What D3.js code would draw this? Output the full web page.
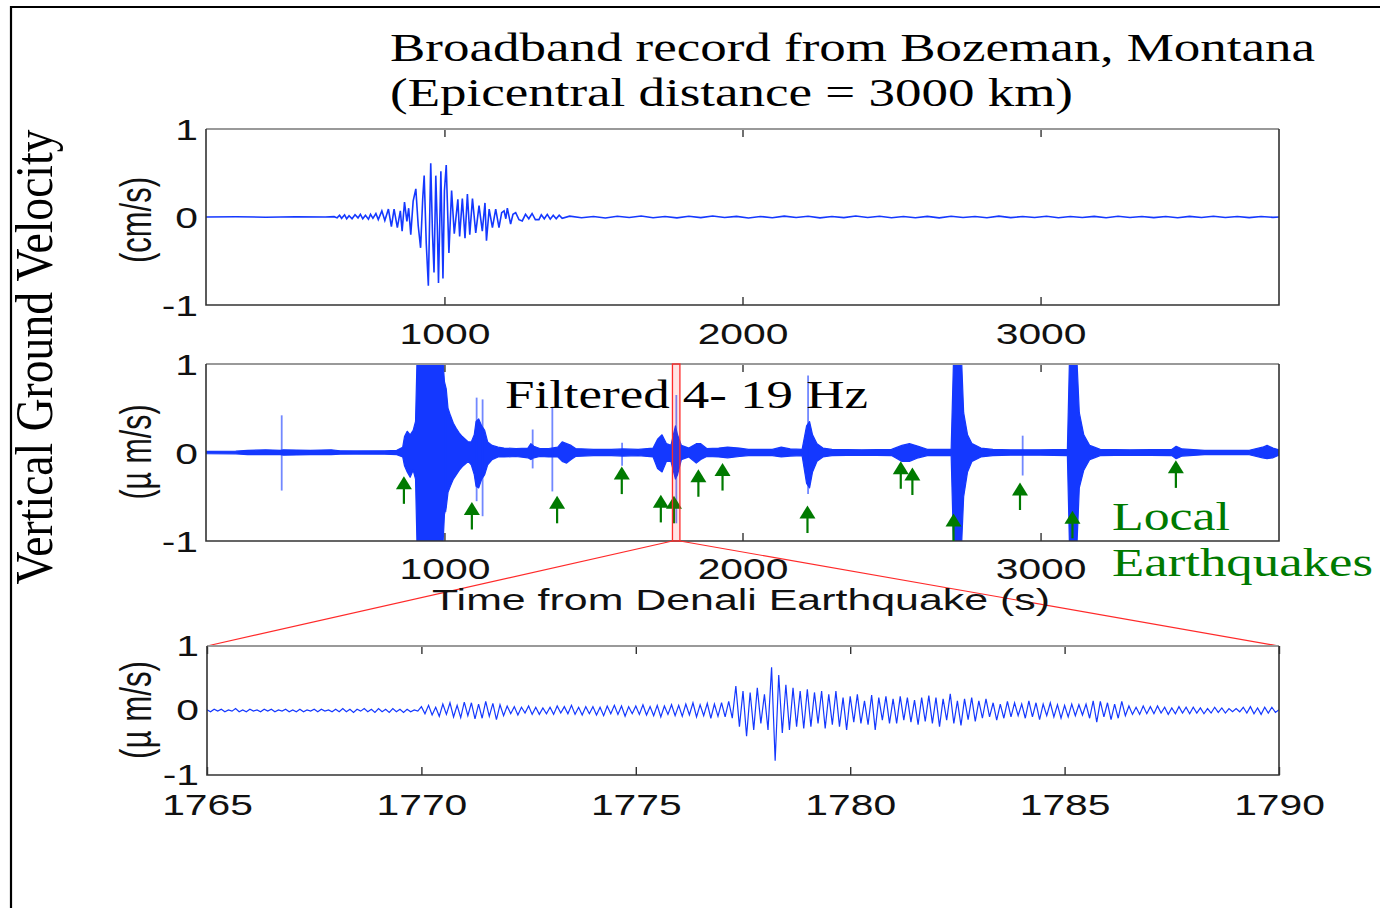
<!DOCTYPE html>
<html>
<head>
<meta charset="utf-8">
<script src="https://cdn.jsdelivr.net/npm/d3@7"></script>
<style>
  body { margin: 0; background: #fff; }
  svg { display: block; }
</style>
</head>
<body>
<div id="chart"></div>
<script>
// ---- values ----
var longTicks = [1000, 2000, 3000];
var zoomTicks = [1765, 1770, 1775, 1780, 1785, 1790];
var ampTicks = [-1, 0, 1];

// broadband record (cm/s)
var bbTime = [200, 300, 400, 500, 600, 630, 640, 648, 655, 665,
  672, 680, 690, 700, 710, 718, 726, 735, 745, 752,
  760, 770, 778, 790, 800, 812, 822, 831, 842, 852,
  858, 866, 874, 880, 887, 895, 904, 912, 920, 927,
  932, 939, 946, 954, 960, 965, 971, 976, 980, 988,
  995, 1000, 1006, 1015, 1024, 1033, 1045, 1051, 1060, 1069,
  1077, 1085, 1094, 1105, 1116, 1127, 1136, 1141, 1150, 1161,
  1172, 1183, 1192, 1200, 1206, 1211, 1222, 1230, 1239, 1250,
  1261, 1272, 1283, 1294, 1305, 1317, 1325, 1335, 1345, 1355,
  1365, 1375, 1385, 1395, 1420, 1460, 1500, 1540, 1580, 1620,
  1660, 1700, 1740, 1780, 1820, 1860, 1900, 1940, 1980, 2020,
  2060, 2100, 2140, 2180, 2220, 2260, 2300, 2340, 2380, 2420,
  2460, 2500, 2540, 2580, 2620, 2660, 2700, 2740, 2780, 2820,
  2860, 2900, 2940, 2980, 3020, 3060, 3100, 3140, 3180, 3220,
  3260, 3300, 3340, 3380, 3420, 3460, 3500, 3540, 3580, 3620,
  3660, 3700, 3740, 3780, 3800];
var bbVel = [0, 0.002, -0.002, 0.003, 0, 0.004, -0.01, 0.02, -0.015, 0.025,
  -0.02, 0.015, -0.02, 0.025, -0.01, 0.03, -0.02, 0.02, -0.025, 0.03,
  -0.015, 0.04, -0.03, 0.07, -0.04, 0.09, -0.11, 0.09, -0.12, 0.07,
  -0.16, 0.17, -0.05, 0.1, -0.2, 0.18, 0.32, -0.1, -0.35, 0.2,
  0.47, -0.3, -0.78, 0.61, -0.2, -0.63, 0.47, -0.1, -0.75, 0.52,
  -0.7, 0.3, 0.59, -0.41, 0.3, -0.19, 0.2, -0.22, 0.21, -0.24,
  0.26, -0.2, 0.21, -0.18, 0.13, -0.16, 0.16, -0.27, 0.09, -0.12,
  0.09, -0.12, 0.05, 0.07, -0.02, 0.1, -0.08, 0.03, 0.05, -0.03,
  -0.045, 0.03, -0.02, 0.04, -0.03, -0.03, 0.025, -0.02, 0.03, -0.025,
  0.02, -0.02, 0.02, -0.015, 0.01, -0.008, 0.006, -0.012, 0.009, -0.006,
  0.011, -0.009, 0.005, -0.01, 0.008, -0.007, 0.012, -0.006, 0.007, -0.011,
  0.006, -0.008, 0.01, -0.005, 0.009, -0.01, 0.006, -0.007, 0.011, -0.006,
  0.008, -0.009, 0.005, -0.008, 0.007, -0.01, 0.009, -0.006, 0.006, -0.008,
  0.01, -0.007, 0.005, -0.006, 0.008, -0.009, 0.006, -0.005, 0.007, -0.008,
  0.009, -0.006, 0.005, -0.007, 0.006, -0.008, 0.007, -0.005, 0.008, -0.006,
  0.005, -0.007, 0.006, -0.004, 0];

// filtered 4-19 Hz record (µm/s), drawn as its envelope
var envTime = [200, 300, 340, 400, 450, 460, 550, 620, 650, 700,
  800, 840, 860, 866, 875, 885, 895, 903, 908, 995,
  1000, 1006, 1012, 1020, 1030, 1040, 1050, 1060, 1070, 1080,
  1090, 1100, 1106, 1115, 1125, 1135, 1145, 1160, 1180, 1200,
  1240, 1280, 1290, 1300, 1320, 1350, 1380, 1395, 1410, 1425,
  1440, 1500, 1560, 1600, 1650, 1700, 1715, 1730, 1745, 1760,
  1775, 1782, 1795, 1820, 1845, 1860, 1880, 1920, 1950, 1990,
  2020, 2100, 2130, 2160, 2200, 2215, 2225, 2235, 2250, 2270,
  2300, 2400, 2500, 2535, 2560, 2590, 2620, 2700, 2708, 2735,
  2742, 2755, 2770, 2800, 2840, 2900, 3000, 3090, 3097, 3122,
  3130, 3145, 3165, 3200, 3300, 3440, 3455, 3475, 3550, 3700,
  3745, 3760, 3780, 3800];
var envHigh = [0.012, 0.015, 0.025, 0.03, 0.025, 0.03, 0.025, 0.03, 0.02, 0.018,
  0.02, 0.025, 0.06, 0.18, 0.24, 0.2, 0.25, 0.35, 1.05, 1.05,
  0.8, 0.72, 0.5, 0.42, 0.33, 0.27, 0.22, 0.18, 0.15, 0.12,
  0.12, 0.2, 0.35, 0.38, 0.3, 0.25, 0.12, 0.08, 0.06, 0.05,
  0.045, 0.05, 0.1, 0.07, 0.045, 0.045, 0.06, 0.12, 0.1, 0.08,
  0.045, 0.035, 0.035, 0.04, 0.035, 0.05, 0.15, 0.2, 0.1, 0.08,
  0.3, 0.2, 0.08, 0.05, 0.1, 0.1, 0.045, 0.05, 0.06, 0.05,
  0.035, 0.035, 0.06, 0.04, 0.035, 0.3, 0.35, 0.2, 0.1, 0.05,
  0.035, 0.03, 0.035, 0.08, 0.1, 0.07, 0.035, 0.035, 1.05, 1.05,
  0.45, 0.2, 0.1, 0.05, 0.035, 0.03, 0.03, 0.035, 1.05, 1.05,
  0.45, 0.2, 0.08, 0.035, 0.03, 0.035, 0.07, 0.04, 0.025, 0.025,
  0.06, 0.08, 0.05, 0.03];
var envLow = [-0.012, -0.015, -0.025, -0.025, -0.025, -0.03, -0.025, -0.025, -0.02, -0.018,
  -0.02, -0.025, -0.05, -0.15, -0.22, -0.28, -0.2, -0.3, -1.05, -1.05,
  -0.7, -0.62, -0.45, -0.38, -0.3, -0.25, -0.2, -0.16, -0.13, -0.1,
  -0.14, -0.25, -0.38, -0.4, -0.3, -0.25, -0.14, -0.08, -0.05, -0.05,
  -0.045, -0.06, -0.08, -0.06, -0.045, -0.05, -0.05, -0.1, -0.12, -0.08,
  -0.045, -0.035, -0.035, -0.04, -0.035, -0.05, -0.18, -0.22, -0.1, -0.1,
  -0.3, -0.25, -0.08, -0.05, -0.12, -0.08, -0.045, -0.05, -0.06, -0.045,
  -0.035, -0.035, -0.05, -0.04, -0.035, -0.35, -0.4, -0.22, -0.1, -0.05,
  -0.035, -0.03, -0.035, -0.1, -0.1, -0.06, -0.035, -0.035, -1.05, -1.05,
  -0.5, -0.22, -0.1, -0.05, -0.035, -0.03, -0.03, -0.035, -1.05, -1.05,
  -0.4, -0.2, -0.08, -0.035, -0.03, -0.035, -0.07, -0.04, -0.025, -0.025,
  -0.06, -0.07, -0.06, -0.03];

// isolated spikes in the filtered record
var spikeTime = [454, 1004, 1108, 1128, 1296, 1362, 1596, 1778, 2220, 2940];
var spikeHigh = [0.42, 0.7, 0.62, 0.6, 0.26, 0.51, 0.11, 0.65, 0.87, 0.19];
var spikeLow = [-0.43, -0.67, -0.55, -0.72, -0.18, -0.44, -0.15, -0.8, -0.47, -0.26];

// local earthquakes (arrow tip)
var quakeTime = [864, 1092, 1378, 1595, 1726, 1770, 1852, 1933, 2218, 2531, 2570, 2708, 2931, 3107, 3454];
var quakeTip = [-0.28, -0.57, -0.5, -0.17, -0.49, -0.5, -0.2, -0.13, -0.61, -0.11, -0.18, -0.7, -0.35, -0.67, -0.1];

// zoom window 1765-1790 s, 12 samples per second (µm/s)
var zoomStart = 1765, zoomEnd = 1790, zoomRate = 12;
var zoomVel = [
  0.01, -0.02, 0.02, -0.01, 0.02, -0.02, 0.01, -0.01, 0.03, -0.02, 0.01, -0.02,
  0.02, -0.01, 0.01, -0.02, 0.02, -0.01, 0.02, -0.02, 0.01, -0.01, 0.02, -0.02,
  0.01, -0.02, 0.02, -0.02, 0.01, -0.01, 0.02, -0.02, 0.02, -0.01, 0.01, -0.02,
  0.02, -0.02, 0.03, -0.02, 0.02, -0.03, 0.02, -0.01, 0.03, -0.02, 0.02, -0.03,
  0.03, -0.02, 0.02, -0.03, 0.03, -0.02, 0.02, -0.03, 0.02, -0.02, 0.01, -0.01,
  0.06, -0.05, 0.08, -0.07, 0.05, -0.09, 0.1, -0.06, 0.12, -0.1, 0.08, -0.11,
  0.13, -0.08, 0.12, -0.13, 0.1, -0.12, 0.14, -0.09, 0.11, -0.14, 0.09, -0.08,
  0.07, -0.05, 0.06, -0.07, 0.05, -0.04, 0.07, -0.06, 0.05, -0.06, 0.04, -0.05,
  0.05, -0.06, 0.07, -0.04, 0.06, -0.05, 0.08, -0.06, 0.05, -0.07, 0.06, -0.05,
  0.06, -0.07, 0.05, -0.08, 0.07, -0.05, 0.08, -0.06, 0.07, -0.09, 0.06, -0.05,
  0.07, -0.06, 0.09, -0.07, 0.06, -0.08, 0.08, -0.1, 0.07, -0.06, 0.09, -0.08,
  0.08, -0.09, 0.1, -0.07, 0.12, -0.1, 0.09, -0.08, 0.11, -0.12, 0.1, -0.09,
  0.12, -0.1, 0.14, -0.12, 0.38, -0.25, 0.3, -0.4, 0.28, -0.3, 0.35, -0.2,
  0.25, -0.3, 0.67, -0.78, 0.55, -0.35, 0.4, -0.3, 0.35, -0.25, 0.3, -0.28,
  0.33, -0.25, 0.28, -0.2, 0.3, -0.28, 0.25, -0.22, 0.3, -0.25, 0.2, -0.3,
  0.22, -0.18, 0.25, -0.2, 0.15, -0.22, 0.24, -0.3, 0.2, -0.15, 0.22, -0.2,
  0.18, -0.2, 0.22, -0.15, 0.2, -0.18, 0.16, -0.22, 0.2, -0.17, 0.23, -0.2,
  0.2, -0.25, 0.18, -0.15, 0.26, -0.2, 0.15, -0.23, 0.18, -0.14, 0.2, -0.17,
  0.15, -0.12, 0.18, -0.1, 0.12, -0.15, 0.1, -0.12, 0.14, -0.1, 0.12, -0.08,
  0.1, -0.12, 0.15, -0.1, 0.12, -0.14, 0.1, -0.08, 0.12, -0.1, 0.09, -0.12,
  0.08, -0.1, 0.1, -0.08, 0.09, -0.07, 0.1, -0.12, 0.15, -0.18, 0.14, -0.1,
  0.12, -0.14, 0.1, -0.12, 0.14, -0.08, 0.07, -0.06, 0.05, -0.06, 0.07, -0.05,
  0.06, -0.05, 0.07, -0.04, 0.05, -0.06, 0.04, -0.05, 0.06, -0.04, 0.05, -0.05,
  0.05, -0.04, 0.04, -0.05, 0.03, -0.04, 0.05, -0.03, 0.04, -0.04, 0.03, -0.02,
  0.03, -0.02, 0.05, -0.04, 0.06, -0.05, 0.04, -0.06, 0.05, -0.04, 0.05, -0.03,
  0.01
];

// ---- drawing ----
var W = 1380, H = 908;
var SERIF = "'Liberation Serif', 'Times New Roman', serif";
var SANS = "'Liberation Sans', Arial, Helvetica, sans-serif";
var BLUE = "#1438ff", GREEN = "#007a00", RED = "#ff2a2a";

var svg = d3.select("#chart").append("svg")
    .attr("width", W)
    .attr("height", H);

// outer frame (top and left edges only are visible)
svg.append("path")
    .attr("d", d3.line()([[11, H], [11, 7], [W, 7]]))
    .attr("fill", "none")
    .attr("stroke", "#000")
    .attr("stroke-width", 2.2);

var xLong = d3.scaleLinear().domain([200, 3800]).range([206, 1279]);
var xZoom = d3.scaleLinear().domain([zoomStart, zoomEnd]).range([207, 1279]);
var yTop = d3.scaleLinear().domain([-1, 1]).range([305, 129]);
var yMid = d3.scaleLinear().domain([-1, 1]).range([541, 364]);
var yBot = d3.scaleLinear().domain([-1, 1]).range([775, 646]);

function stretchText(sel, k){
  sel.each(function(){
    var w = this.getComputedTextLength();
    d3.select(this).attr("textLength", w*k).attr("lengthAdjust", "spacingAndGlyphs");
  });
}

function drawAxes(x, y, xt, labelY, yLabelDy){
  var x0 = x.range()[0], x1 = x.range()[1];
  var y0 = y.range()[1], y1 = y.range()[0];
  var g = svg.append("g");

  var bottom = g.append("g")
      .attr("transform", "translate(0," + y1 + ")")
      .call(d3.axisBottom(x).tickValues(xt).tickSizeInner(-8).tickSizeOuter(0).tickFormat(function(d){ return String(d); }));
  var top = g.append("g")
      .attr("transform", "translate(0," + y0 + ")")
      .call(d3.axisTop(x).tickValues(xt).tickSizeInner(-8).tickSizeOuter(0).tickFormat(""));
  var left = g.append("g")
      .attr("transform", "translate(" + x0 + ",0)")
      .call(d3.axisLeft(y).tickValues(ampTicks).tickSize(0).tickFormat(function(d){ return String(d); }));

  [bottom, top, left].forEach(function(a){
    a.select(".domain").remove();
    a.attr("font-size", 30).attr("font-family", SANS);
    a.selectAll("line").attr("stroke", "#333").attr("stroke-width", 1.4);
    a.selectAll("text").attr("fill", "#111");
  });
  bottom.selectAll("text").attr("dy", null).attr("y", labelY);
  left.selectAll("text").attr("dy", yLabelDy).attr("x", -8);
  stretchText(bottom.selectAll("text"), 1.36);
  stretchText(left.selectAll("text"), 1.36);

  // box
  g.append("line").attr("x1", x0).attr("x2", x1).attr("y1", y0).attr("y2", y0)
      .attr("stroke", "#999").attr("stroke-width", 2);
  g.append("path")
      .attr("d", d3.line()([[x0, y0], [x0, y1], [x1, y1], [x1, y0]]))
      .attr("fill", "none").attr("stroke", "#333").attr("stroke-width", 1.6);
}

function hText(txt, x, y, size, family, len, fill){
  return svg.append("text")
      .attr("x", x).attr("y", y)
      .attr("font-family", family).attr("font-size", size)
      .attr("fill", fill || "#000")
      .attr("textLength", len).attr("lengthAdjust", "spacingAndGlyphs")
      .text(txt);
}

function vText(txt, bx, cy, size, family, len, sx){
  return svg.append("text")
      .attr("transform", "translate(" + bx + "," + cy + ") scale(" + sx + ",1) rotate(-90)")
      .attr("text-anchor", "middle")
      .attr("font-family", family).attr("font-size", size)
      .attr("fill", "#111")
      .attr("textLength", len).attr("lengthAdjust", "spacingAndGlyphs")
      .text(txt);
}

// clip paths
var defs = svg.append("defs");
function clipFor(id, x, y){
  defs.append("clipPath").attr("id", id).append("rect")
      .attr("x", x.range()[0]).attr("y", y.range()[1])
      .attr("width", x.range()[1] - x.range()[0])
      .attr("height", y.range()[0] - y.range()[1]);
}
clipFor("clipTop", xLong, yTop);
clipFor("clipMid", xLong, yMid);
clipFor("clipBot", xZoom, yBot);

// ---- top panel: broadband ----
svg.append("path")
    .datum(d3.range(bbTime.length))
    .attr("clip-path", "url(#clipTop)")
    .attr("fill", "none")
    .attr("stroke", BLUE)
    .attr("stroke-width", 1.6)
    .attr("d", d3.line().x(function(i){ return xLong(bbTime[i]); }).y(function(i){ return yTop(bbVel[i]); }));
drawAxes(xLong, yTop, longTicks, 39, "0.36em");

// ---- middle panel: filtered ----
var mid = svg.append("g").attr("clip-path", "url(#clipMid)");
mid.append("path")
    .datum(d3.range(envTime.length))
    .attr("fill", BLUE)
    .attr("stroke", BLUE)
    .attr("stroke-width", 1.2)
    .attr("stroke-linejoin", "round")
    .attr("d", d3.area()
      .x(function(i){ return xLong(envTime[i]); })
      .y0(function(i){ return yMid(envLow[i]); })
      .y1(function(i){ return yMid(envHigh[i]); }));
mid.selectAll(".spike")
    .data(d3.range(spikeTime.length))
    .enter().append("line")
    .attr("class", "spike")
    .attr("x1", function(i){ return xLong(spikeTime[i]); })
    .attr("x2", function(i){ return xLong(spikeTime[i]); })
    .attr("y1", function(i){ return yMid(spikeHigh[i]); })
    .attr("y2", function(i){ return yMid(spikeLow[i]); })
    .attr("stroke", BLUE)
    .attr("stroke-opacity", 0.6)
    .attr("stroke-width", 1.8);
drawAxes(xLong, yMid, longTicks, 38, "0.36em");

hText("Filtered 4- 19 Hz", 505, 408, 40, SERIF, 363);

// local earthquake arrows
var arrows = svg.selectAll(".quake")
    .data(d3.range(quakeTime.length))
    .enter().append("g")
    .attr("class", "quake")
    .attr("transform", function(i){ return "translate(" + xLong(quakeTime[i]) + "," + yMid(quakeTip[i]) + ")"; });
arrows.append("line")
    .attr("x1", 0).attr("x2", 0)
    .attr("y1", 10)
    .attr("y2", function(i){ return yMid(quakeTip[i] - 0.3) - yMid(quakeTip[i]); })
    .attr("stroke", GREEN)
    .attr("stroke-width", 2.2);
arrows.append("path")
    .attr("d", "M0,-1L8,12L-8,12Z")
    .attr("fill", GREEN);

// zoom window marker and connectors
svg.append("rect")
    .attr("x", xLong(zoomStart))
    .attr("y", yMid(1))
    .attr("width", xLong(zoomEnd) - xLong(zoomStart))
    .attr("height", yMid(-1) - yMid(1))
    .attr("fill", RED).attr("fill-opacity", 0.12)
    .attr("stroke", RED).attr("stroke-width", 1.3);
svg.append("line")
    .attr("x1", xLong(zoomStart)).attr("y1", yMid(-1))
    .attr("x2", xZoom(zoomStart)).attr("y2", yBot(1))
    .attr("stroke", RED).attr("stroke-width", 1.2);
svg.append("line")
    .attr("x1", xLong(zoomEnd)).attr("y1", yMid(-1))
    .attr("x2", xZoom(zoomEnd)).attr("y2", yBot(1))
    .attr("stroke", RED).attr("stroke-width", 1.2);

// ---- bottom panel: zoom ----
svg.append("path")
    .datum(d3.range(zoomVel.length))
    .attr("clip-path", "url(#clipBot)")
    .attr("fill", "none")
    .attr("stroke", BLUE)
    .attr("stroke-width", 1.2)
    .attr("d", d3.line()
      .x(function(i){ return xZoom(zoomStart + i/zoomRate); })
      .y(function(i){ return yBot(zoomVel[i]); }));
drawAxes(xZoom, yBot, zoomTicks, 40, "0.3em");

// ---- texts ----
hText("Broadband record from Bozeman, Montana", 390, 61, 40, SERIF, 925);
hText("(Epicentral distance = 3000 km)", 390, 106, 40, SERIF, 683);
hText("Time from Denali Earthquake (s)", 432, 610, 29, SANS, 618, "#111");
hText("Local", 1112, 530, 39, SERIF, 118, GREEN);
hText("Earthquakes", 1112, 576, 39, SERIF, 261, GREEN);

vText("Vertical Ground Velocity", 52, 357, 45, SERIF, 455, 1.15).attr("fill", "#000");
vText("(cm/s)", 151, 220, 31, SANS, 86, 1.45);
vText("(\u00b5 m/s)", 151, 452, 31, SANS, 95, 1.45);
vText("(\u00b5 m/s)", 151, 710, 31, SANS, 98, 1.45);
</script>
</body>
</html>
